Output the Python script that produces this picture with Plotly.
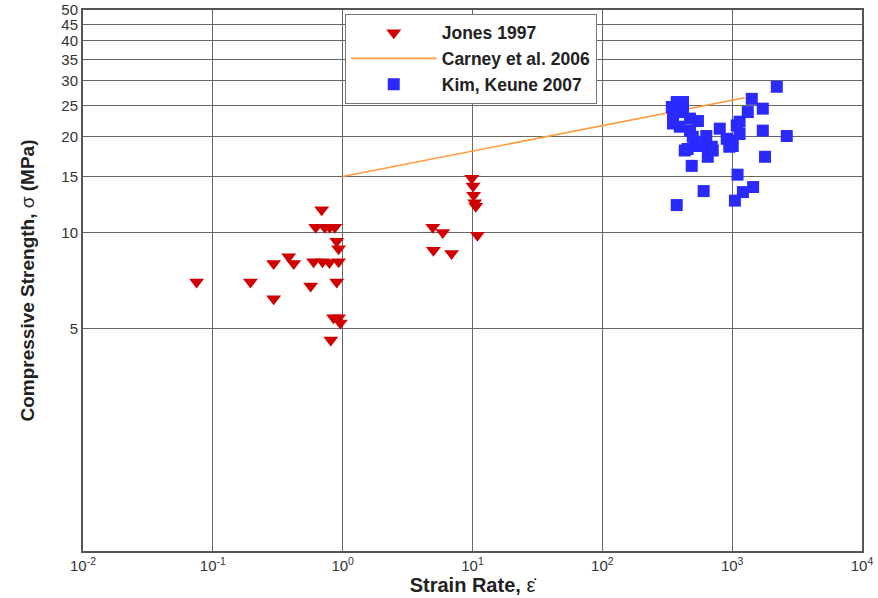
import plotly.graph_objects as go

# Jones 1997 (strain rate, compressive strength in MPa)
jones_rate = [0.075, 0.195, 0.294, 0.294, 0.384, 0.42, 0.567, 0.597, 0.62, 0.689,
              0.727, 0.794, 0.70, 0.79, 0.87, 0.90, 0.93, 0.93, 0.90, 0.85,
              0.93, 0.96, 0.81,
              4.94, 5.9, 5.0, 6.9, 9.87, 10.1, 10.2, 10.4, 10.6, 10.9]
jones_strength = [7.0, 7.0, 6.2, 8.0, 8.4, 8.0, 6.8, 8.1, 10.4, 11.8,
                  10.4, 10.4, 8.1, 8.05, 10.4, 9.4, 8.9, 8.1, 7.0, 5.4,
                  5.4, 5.2, 4.6,
                  10.4, 10.0, 8.8, 8.6, 14.8, 14.0, 13.1, 12.4, 12.1, 9.8]

# Carney et al. 2006 fit endpoints
carney_rate = [1.0, 1250.0]
carney_strength = [15.0, 26.5]

# Kim, Keune 2007
kim_rate = [2207, 1416, 1722, 1319, 1722, 2633, 1085, 1140, 1000, 1010,
            1790, 1100, 1450, 1210, 1050, 603, 374, 488, 802, 649,
            709, 431, 515, 583, 632, 908, 374, 418, 343, 350,
            350, 418, 473, 545, 395, 473, 497, 545, 454, 697,
            950, 1140]
kim_strength = [28.7, 26.3, 24.5, 23.9, 20.9, 20.1, 21.7, 20.4, 19.4, 18.7,
                17.3, 15.2, 13.9, 13.4, 12.6, 13.5, 12.2, 16.2, 21.2, 17.3,
                18.1, 18.1, 19.3, 18.7, 20.1, 19.7, 25.7, 25.7, 24.8, 23.3,
                22.0, 23.9, 22.8, 22.4, 21.5, 20.9, 20.0, 18.7, 18.3, 18.6,
                18.6, 22.3]

x_tickvals = [1e-2, 1e-1, 1e0, 1e1, 1e2, 1e3, 1e4]
x_ticktext = ["10<sup>-2</sup>", "10<sup>-1</sup>", "10<sup>0</sup>", "10<sup>1</sup>",
              "10<sup>2</sup>", "10<sup>3</sup>", "10<sup>4</sup>"]
y_tickvals = [5, 10, 15, 20, 25, 30, 35, 40, 45, 50]

fig = go.Figure()
fig.add_trace(go.Scatter(
    x=jones_rate, y=jones_strength, mode="markers", name="Jones 1997",
    marker=dict(symbol="triangle-down", size=13, color="#d00000", line=dict(width=0)),
))
fig.add_trace(go.Scatter(
    x=carney_rate, y=carney_strength, mode="lines", name="Carney et al. 2006",
    line=dict(color="#ff9a3c", width=1.6),
))
fig.add_trace(go.Scatter(
    x=kim_rate, y=kim_strength, mode="markers", name="Kim, Keune 2007",
    marker=dict(symbol="square", size=12, color="#2a2aff", line=dict(width=0)),
))

axis_common = dict(
    showline=True, linecolor="#555555", linewidth=2, mirror=True,
    showgrid=True, gridcolor="#666666", gridwidth=1,
    ticks="", zeroline=False, automargin=False,
    tickfont=dict(family="Liberation Sans Narrow, Liberation Sans, Arial", size=15, color="#333333"),
)

fig.update_layout(
    width=878, height=598,
    margin=dict(l=83, r=16, t=10, b=47),
    paper_bgcolor="white", plot_bgcolor="white",
    showlegend=True,
    legend=dict(
        x=0.336, y=0.993, xanchor="left", yanchor="top",
        bgcolor="white", bordercolor="#777777", borderwidth=1,
        font=dict(family="Liberation Sans, Arial", size=17.5, color="#222222", weight="bold"),
        itemwidth=86, tracegroupgap=0,
    ),
    xaxis=dict(
        type="log", range=[-2, 4], tickvals=x_tickvals, ticktext=x_ticktext,
        title=dict(text="Strain Rate, <span style='font-weight:normal'>ε̇</span>",
                   font=dict(family="Liberation Sans Narrow, Liberation Sans, Arial", size=20,
                             color="#222222", weight="bold"), standoff=2),
        **axis_common,
    ),
    yaxis=dict(
        type="log", range=[0, 1.69897], tickvals=y_tickvals,
        ticktext=[str(v) for v in y_tickvals],
        title=dict(text="Compressive Strength, <span style='font-weight:normal'>σ</span> (MPa)",
                   font=dict(family="Liberation Sans, Arial", size=19, color="#222222",
                             weight="bold"), standoff=22),
        **axis_common,
    ),
)

fig.write_html("out.html")
